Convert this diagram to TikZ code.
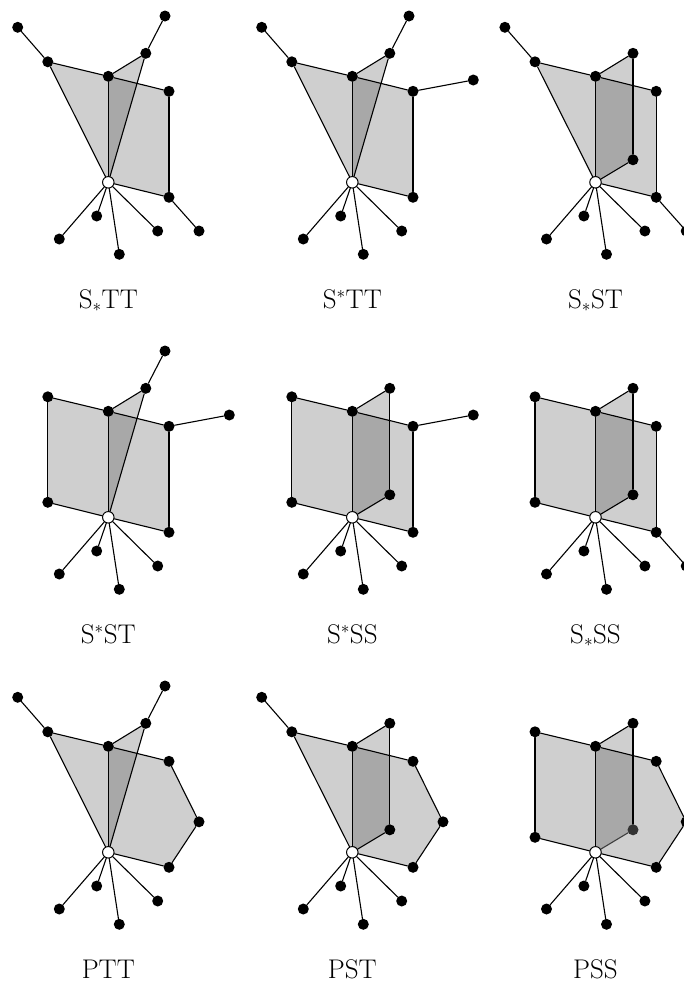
\documentclass[tikz,border=0pt]{standalone}
\begin{document}
\tikzset{
  face/.style={fill=black, fill opacity=0.19},
  edge/.style={line width=1.1pt, line cap=round},
  dot/.style={circle, fill=black, inner sep=0pt, minimum size=11pt},
  gdot/.style={circle, fill=black!80, inner sep=0pt, minimum size=11pt},
  wdot/.style={circle, fill=white, draw=black, line width=1pt, inner sep=0pt, minimum size=11.5pt},
  lab/.style={font=\fontsize{27}{32}\selectfont, inner sep=0pt, anchor=base},
}
\newcommand\defpts[1]{%
  \coordinate (#1W) at (0,0);
  \coordinate (#1A) at (-60.5,-120.5);
  \coordinate (#1Al) at (-90.6,-155);
  \coordinate (#1Ab) at (-60.5,-15);
  \coordinate (#1M) at (0,-106);
  \coordinate (#1T) at (37.5,-129);
  \coordinate (#1Tl) at (56.7,-166.3);
  \coordinate (#1Tb) at (37.5,-22.5);
  \coordinate (#1R) at (60.7,-91);
  \coordinate (#1Rl) at (121,-102.3);
  \coordinate (#1Rb) at (60.7,15);
  \coordinate (#1Rbl) at (90.7,48.7);
  \coordinate (#1P) at (90.7,-30.5);
  \coordinate (#1La) at (-11.6,33.7);
  \coordinate (#1Lb) at (-49,56.7);
  \coordinate (#1Lc) at (11,72);
  \coordinate (#1Ld) at (49.4,48.7);
}
\newcommand\fillLT[1]{\fill[face] (#1A) -- (#1M) -- (#1W) -- cycle;}
\newcommand\fillLS[1]{\fill[face] (#1A) -- (#1M) -- (#1W) -- (#1Ab) -- cycle;}
\newcommand\fillBT[1]{\fill[face] (#1M) -- (#1T) -- (#1W) -- cycle;}
\newcommand\fillBS[1]{\fill[face] (#1M) -- (#1T) -- (#1Tb) -- (#1W) -- cycle;}
\newcommand\fillRS[1]{\fill[face] (#1M) -- (#1R) -- (#1Rb) -- (#1W) -- cycle;}
\newcommand\fillRP[1]{\fill[face] (#1M) -- (#1R) -- (#1P) -- (#1Rb) -- (#1W) -- cycle;}
\newcommand\basepart[1]{%
  \node[wdot] (#1nW) at (#1W) {};
  \node[dot] (#1nM) at (#1M) {};
  \node[dot] (#1nLa) at (#1La) {};
  \node[dot] (#1nLb) at (#1Lb) {};
  \node[dot] (#1nLc) at (#1Lc) {};
  \node[dot] (#1nLd) at (#1Ld) {};
  \draw[edge] (#1nM) -- (#1nW);
  \draw[edge] (#1nW) -- (#1nLa);
  \draw[edge] (#1nW) -- (#1nLb);
  \draw[edge] (#1nW) -- (#1nLc);
  \draw[edge] (#1nW) -- (#1nLd);
}
\newcommand\partLT[1]{%
  \node[dot] (#1nA) at (#1A) {};
  \node[dot] (#1nAl) at (#1Al) {};
  \draw[edge] (#1nAl) -- (#1nA);
  \draw[edge] (#1nA) -- (#1nM);
  \draw[edge] (#1nA) -- (#1nW);
}
\newcommand\partLS[1]{%
  \node[dot] (#1nA) at (#1A) {};
  \node[dot] (#1nAb) at (#1Ab) {};
  \draw[edge] (#1nA) -- (#1nM);
  \draw[edge] (#1nA) -- (#1nAb);
  \draw[edge] (#1nAb) -- (#1nW);
}
\newcommand\partBT[1]{%
  \node[dot] (#1nT) at (#1T) {};
  \node[dot] (#1nTl) at (#1Tl) {};
  \draw[edge] (#1nM) -- (#1nT);
  \draw[edge] (#1nT) -- (#1nW);
  \draw[edge] (#1nT) -- (#1nTl);
}
\newcommand\partBS[1]{%
  \node[dot] (#1nT) at (#1T) {};
  \node[dot] (#1nTb) at (#1Tb) {};
  \draw[edge] (#1nM) -- (#1nT);
  \draw[edge] (#1nT) -- (#1nTb);
  \draw[edge] (#1nTb) -- (#1nW);
}
\newcommand\partBSg[1]{%
  \node[dot] (#1nT) at (#1T) {};
  \node[gdot] (#1nTb) at (#1Tb) {};
  \draw[edge] (#1nM) -- (#1nT);
  \draw[edge] (#1nT) -- (#1nTb);
  \draw[edge, black!75] (#1nTb) -- (#1nW);
}
\newcommand\partRS[1]{%
  \node[dot] (#1nR) at (#1R) {};
  \node[dot] (#1nRb) at (#1Rb) {};
  \draw[edge] (#1nM) -- (#1nR);
  \draw[edge] (#1nR) -- (#1nRb);
  \draw[edge] (#1nRb) -- (#1nW);
}
\newcommand\partRP[1]{%
  \node[dot] (#1nR) at (#1R) {};
  \node[dot] (#1nP) at (#1P) {};
  \node[dot] (#1nRb) at (#1Rb) {};
  \draw[edge] (#1nM) -- (#1nR);
  \draw[edge] (#1nR) -- (#1nP);
  \draw[edge] (#1nP) -- (#1nRb);
  \draw[edge] (#1nRb) -- (#1nW);
}
\newcommand\leafR[1]{%
  \node[dot] (#1nRl) at (#1Rl) {};
  \draw[edge] (#1nR) -- (#1nRl);
}
\newcommand\leafRb[1]{%
  \node[dot] (#1nRbl) at (#1Rbl) {};
  \draw[edge] (#1nRb) -- (#1nRbl);
}
\begin{tikzpicture}[x=1pt, y=-1pt]
\useasboundingbox (0,0) rectangle (684,983);
\clip (0,0) rectangle (684,983);
% Row 1
\begin{scope}[shift={(108.3,182.3)}]
  \defpts{a}
  \fillLT{a}\fillBT{a}\fillRS{a}
  \basepart{a}\partLT{a}\partBT{a}\partRS{a}\leafRb{a}
  \node[lab] (alab) at (0,125.7) {S$_*$TT};
\end{scope}
\begin{scope}[shift={(352.3,182.3)}]
  \defpts{b}
  \fillLT{b}\fillBT{b}\fillRS{b}
  \basepart{b}\partLT{b}\partBT{b}\partRS{b}\leafR{b}
  \node[lab] (blab) at (0,125.7) {S$^*$TT};
\end{scope}
\begin{scope}[shift={(595.5,182.3)}]
  \defpts{c}
  \fillLT{c}\fillBS{c}\fillRS{c}
  \basepart{c}\partLT{c}\partBS{c}\partRS{c}\leafRb{c}
  \node[lab] (clab) at (0,125.7) {S$_*$ST};
\end{scope}
% Row 2
\begin{scope}[shift={(108.3,517.3)}]
  \defpts{d}
  \fillLS{d}\fillBT{d}\fillRS{d}
  \basepart{d}\partLS{d}\partBT{d}\partRS{d}\leafR{d}
  \node[lab] (dlab) at (0,125.7) {S$^*$ST};
\end{scope}
\begin{scope}[shift={(352.3,517.3)}]
  \defpts{e}
  \fillLS{e}\fillBS{e}\fillRS{e}
  \basepart{e}\partLS{e}\partBS{e}\partRS{e}\leafR{e}
  \node[lab] (elab) at (0,125.7) {S$^*$SS};
\end{scope}
\begin{scope}[shift={(595.5,517.3)}]
  \defpts{f}
  \fillLS{f}\fillBS{f}\fillRS{f}
  \basepart{f}\partLS{f}\partBS{f}\partRS{f}\leafRb{f}
  \node[lab] (flab) at (0,125.7) {S$_*$SS};
\end{scope}
% Row 3
\begin{scope}[shift={(108.3,852.3)}]
  \defpts{g}
  \fillLT{g}\fillBT{g}\fillRP{g}
  \basepart{g}\partLT{g}\partBT{g}\partRP{g}
  \node[lab] (glab) at (0,125.7) {PTT};
\end{scope}
\begin{scope}[shift={(352.3,852.3)}]
  \defpts{h}
  \fillLT{h}\fillBS{h}\fillRP{h}
  \basepart{h}\partLT{h}\partBS{h}\partRP{h}
  \node[lab] (hlab) at (0,125.7) {PST};
\end{scope}
\begin{scope}[shift={(595.5,852.3)}]
  \defpts{i}
  \fillLS{i}\fillBS{i}\fillRP{i}
  \basepart{i}\partLS{i}\partBSg{i}\partRP{i}
  \node[lab] (ilab) at (0,125.7) {PSS};
\end{scope}
\end{tikzpicture}
\end{document}
